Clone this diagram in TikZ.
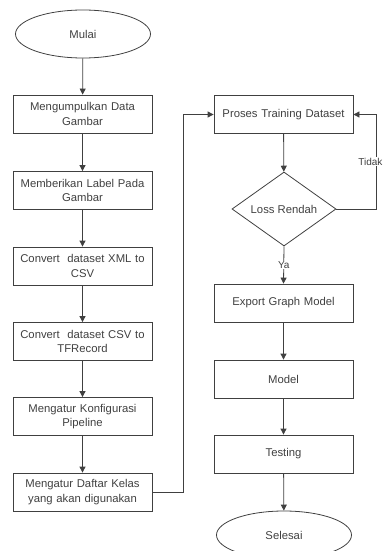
\documentclass[tikz,border=0pt]{standalone}
\usepackage{fontspec}
\setmainfont{Liberation Sans}
\usetikzlibrary{shapes.geometric, arrows.meta}

\begin{document}
\begin{tikzpicture}[x=1pt, y=-1pt,
    proc/.style={draw=black!75, line width=0.8pt, rectangle, minimum width=139pt, minimum height=38pt,
        text width=136pt, align=center, inner sep=1pt, text=black!75, font=\fontsize{11.3}{14.5}\selectfont},
    term/.style={draw=black!75, line width=0.8pt, ellipse, minimum width=135pt, minimum height=48pt,
        text=black!75, font=\fontsize{11.3}{14.5}\selectfont},
    cond/.style={draw=black!75, line width=0.8pt, diamond, aspect=1.4, minimum width=104pt, minimum height=74pt,
        inner sep=0pt, text=black!75, font=\fontsize{11.3}{14.5}\selectfont},
    flow/.style={draw=black!75, line width=0.8pt, -{Triangle[length=6pt,width=6pt]}},
    lbl/.style={fill=white, inner sep=1pt, text=black!75, font=\fontsize{10}{12}\selectfont}]
    \useasboundingbox (0,0) rectangle (386,551);

    % left column
    \node[term] (mulai) at (83,34) {Mulai};
    \node[proc] (kumpul) at (82.5,114) {Mengumpulkan Data\\Gambar};
    \node[proc] (label) at (82.5,190.5) {Memberikan Label Pada\\Gambar};
    \node[proc] (xml) at (82.5,266) {Convert~ dataset XML to\\CSV};
    \node[proc] (tfr) at (82.5,341.5) {Convert~ dataset CSV to\\TFRecord};
    \node[proc] (pipe) at (82.5,416.5) {Mengatur Konfigurasi\\Pipeline};
    \node[proc] (kelas) at (82.5,492) {Mengatur Daftar Kelas\\yang akan digunakan};

    % right column
    \node[proc] (train) at (283.5,114.5) {Proses Training Dataset};
    \node[cond] (loss) at (284,209) {Loss Rendah};
    \node[proc] (export) at (283.5,303) {Export Graph Model};
    \node[proc] (model) at (283.5,379) {Model};
    \node[proc] (test) at (283.5,454) {Testing};
    \node[term] (selesai) at (284,535) {Selesai};

    \draw[flow] (mulai) -- (kumpul);
    \draw[flow] (kumpul) -- (label);
    \draw[flow] (label) -- (xml);
    \draw[flow] (xml) -- (tfr);
    \draw[flow] (tfr) -- (pipe);
    \draw[flow] (pipe) -- (kelas);
    \draw[flow] (kelas.east) -- ++(31,0) |- (train.west);

    \draw[flow] (train) -- (loss);
    \draw[flow] (loss.south) -- node[lbl] {Ya} (export.north);
    \draw[flow] (loss.east) -- ++(40,0) |- node[lbl, pos=0.25, xshift=-6pt] {Tidak} (train.east);
    \draw[flow] (export) -- (model);
    \draw[flow] (model) -- (test);
    \draw[flow] (test) -- (selesai);
\end{tikzpicture}
\end{document}
